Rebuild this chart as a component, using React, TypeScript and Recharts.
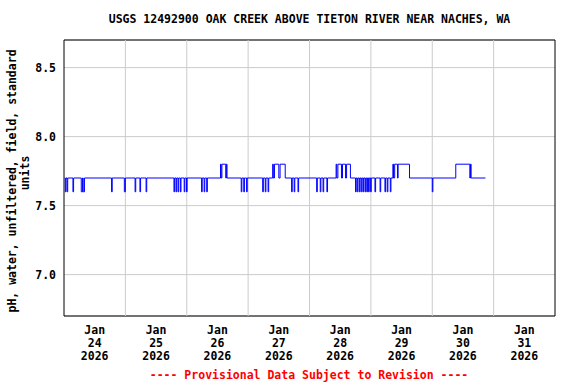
import { LineChart, Line, XAxis, YAxis, CartesianGrid, ReferenceLine, ReferenceArea } from "recharts"

// hours since Jan 24 2026 00:00 and pH reading from that time on (step data)
const readings: [number, number][] = [
  [0.25, 7.7],
  [0.5, 7.6], [0.75, 7.7], [1.2, 7.6], [1.45, 7.7],
  [3.5, 7.6], [3.75, 7.7],
  [6.75, 7.6], [7.25, 7.7], [7.5, 7.6], [8.0, 7.7],
  [18.6, 7.6], [18.85, 7.7],
  [23.6, 7.6], [24.0, 7.7],
  [27.8, 7.6], [28.05, 7.7],
  [29.7, 7.6], [29.95, 7.7],
  [32.1, 7.6], [32.35, 7.7],
  [43.0, 7.6], [43.25, 7.7], [43.8, 7.6], [44.05, 7.7], [44.6, 7.6], [44.85, 7.7], [45.5, 7.6], [45.75, 7.7],
  [47.0, 7.6], [47.25, 7.7], [47.9, 7.6], [48.15, 7.7],
  [53.8, 7.6], [54.05, 7.7], [54.8, 7.6], [55.05, 7.7], [55.8, 7.6], [56.05, 7.7],
  [61.2, 7.8], [61.45, 7.7], [61.75, 7.8], [63.25, 7.7], [63.5, 7.8], [63.75, 7.7],
  [69.3, 7.6], [69.55, 7.7], [70.3, 7.6], [70.55, 7.7], [71.4, 7.6], [71.65, 7.7],
  [77.7, 7.6], [77.95, 7.7], [78.7, 7.6], [78.95, 7.7], [79.8, 7.6], [80.05, 7.7],
  [81.6, 7.8], [81.85, 7.7], [82.3, 7.8], [84.0, 7.7], [84.5, 7.8], [86.5, 7.7],
  [89.0, 7.6], [89.25, 7.7], [90.0, 7.6], [90.25, 7.7], [91.5, 7.6], [91.75, 7.7],
  [98.8, 7.6], [99.05, 7.7],
  [100.2, 7.6], [100.45, 7.7], [101.3, 7.6], [101.55, 7.7], [102.8, 7.6], [103.05, 7.7],
  [106.4, 7.8], [106.65, 7.7], [107.1, 7.8], [108.5, 7.7], [108.9, 7.8], [110.1, 7.7], [110.5, 7.8], [112.0, 7.7],
  [114.0, 7.6], [114.25, 7.7], [114.7, 7.6], [114.95, 7.7], [115.5, 7.6], [115.75, 7.7],
  [116.2, 7.6], [116.45, 7.7], [116.9, 7.6], [117.15, 7.7], [117.7, 7.6], [117.95, 7.7],
  [118.4, 7.6], [118.65, 7.7], [119.1, 7.6], [119.35, 7.7], [119.9, 7.6], [120.15, 7.7],
  [121.6, 7.6], [121.85, 7.7], [123.6, 7.6], [123.85, 7.7], [125.5, 7.6], [125.75, 7.7],
  [126.4, 7.6], [126.65, 7.7], [127.6, 7.6], [127.85, 7.7],
  [128.6, 7.8], [128.85, 7.7], [129.3, 7.8], [130.4, 7.7], [130.65, 7.8], [135.1, 7.7],
  [144.0, 7.6], [144.25, 7.7],
  [153.2, 7.8], [158.7, 7.7], [158.95, 7.8], [159.2, 7.7],
  [164.8, 7.7],
]

const dayLabels = ["24", "25", "26", "27", "28", "29", "30", "31"]
const labelTicks = [12, 36, 60, 84, 108, 132, 156, 180]
const dayLines = [24, 48, 72, 96, 120, 144, 168]
const yTicks = [7.0, 7.5, 8.0, 8.5]

const data = readings.map(([h, ph]) => ({ h, ph }))

const FONT = "'DejaVu Sans Mono', monospace"

function DateTick(props: any) {
  const { x, y, payload } = props
  const i = labelTicks.indexOf(payload.value)
  return (
    <g fontFamily={FONT} fontWeight="bold" fontSize={11.5} fill="#000" textAnchor="middle">
      <text x={x} y={y + 10}>Jan</text>
      <text x={x} y={y + 23}>{dayLabels[i]}</text>
      <text x={x} y={y + 36}>2026</text>
    </g>
  )
}

export default function App() {
  return (
    <div style={{ position: "absolute", left: 0, top: 0, width: 576, height: 384, background: "#fff" }}>
      <LineChart width={576} height={384} data={data} margin={{ top: 40, right: 21, bottom: 0, left: 0 }}>
        <text x={309.5} y={23} textAnchor="middle" fontFamily={FONT} fontWeight="bold" fontSize={11.5} fill="#000">
          USGS 12492900 OAK CREEK ABOVE TIETON RIVER NEAR NACHES, WA
        </text>
        <text x={309} y={379} textAnchor="middle" fontFamily={FONT} fontWeight="bold" fontSize={11.5} fill="#ff0000">
          ---- Provisional Data Subject to Revision ----
        </text>
        <text transform="translate(15.5,181) rotate(-90)" textAnchor="middle" fontFamily={FONT} fontWeight="bold" fontSize={11.5} fill="#000">
          pH, water, unfiltered, field, standard
        </text>
        <text transform="translate(28.5,173) rotate(-90)" textAnchor="middle" fontFamily={FONT} fontWeight="bold" fontSize={11.5} fill="#000">
          units
        </text>
        <CartesianGrid vertical={false} stroke="#cccccc" />
        {dayLines.map((d) => (
          <ReferenceLine key={d} x={d} stroke="#cccccc" />
        ))}
        <XAxis
          dataKey="h"
          type="number"
          domain={[0, 192]}
          ticks={labelTicks}
          tick={<DateTick />}
          axisLine={false}
          tickLine={false}
          height={68}
          interval={0}
        />
        <YAxis
          type="number"
          domain={[6.7, 8.7]}
          ticks={yTicks}
          tickFormatter={(v: number) => v.toFixed(1)}
          axisLine={false}
          tickLine={false}
          width={64}
          tick={{ fontFamily: FONT, fontWeight: "bold", fontSize: 11.5, fill: "#000" }}
        />
        <ReferenceArea x1={0} x2={192} y1={6.7} y2={8.7} fill="none" stroke="#000" strokeWidth={1} />
        <Line
          type="stepAfter"
          dataKey="ph"
          stroke="#0000ff"
          strokeWidth={1}
          dot={false}
          isAnimationActive={false}
        />
      </LineChart>
    </div>
  )
}
